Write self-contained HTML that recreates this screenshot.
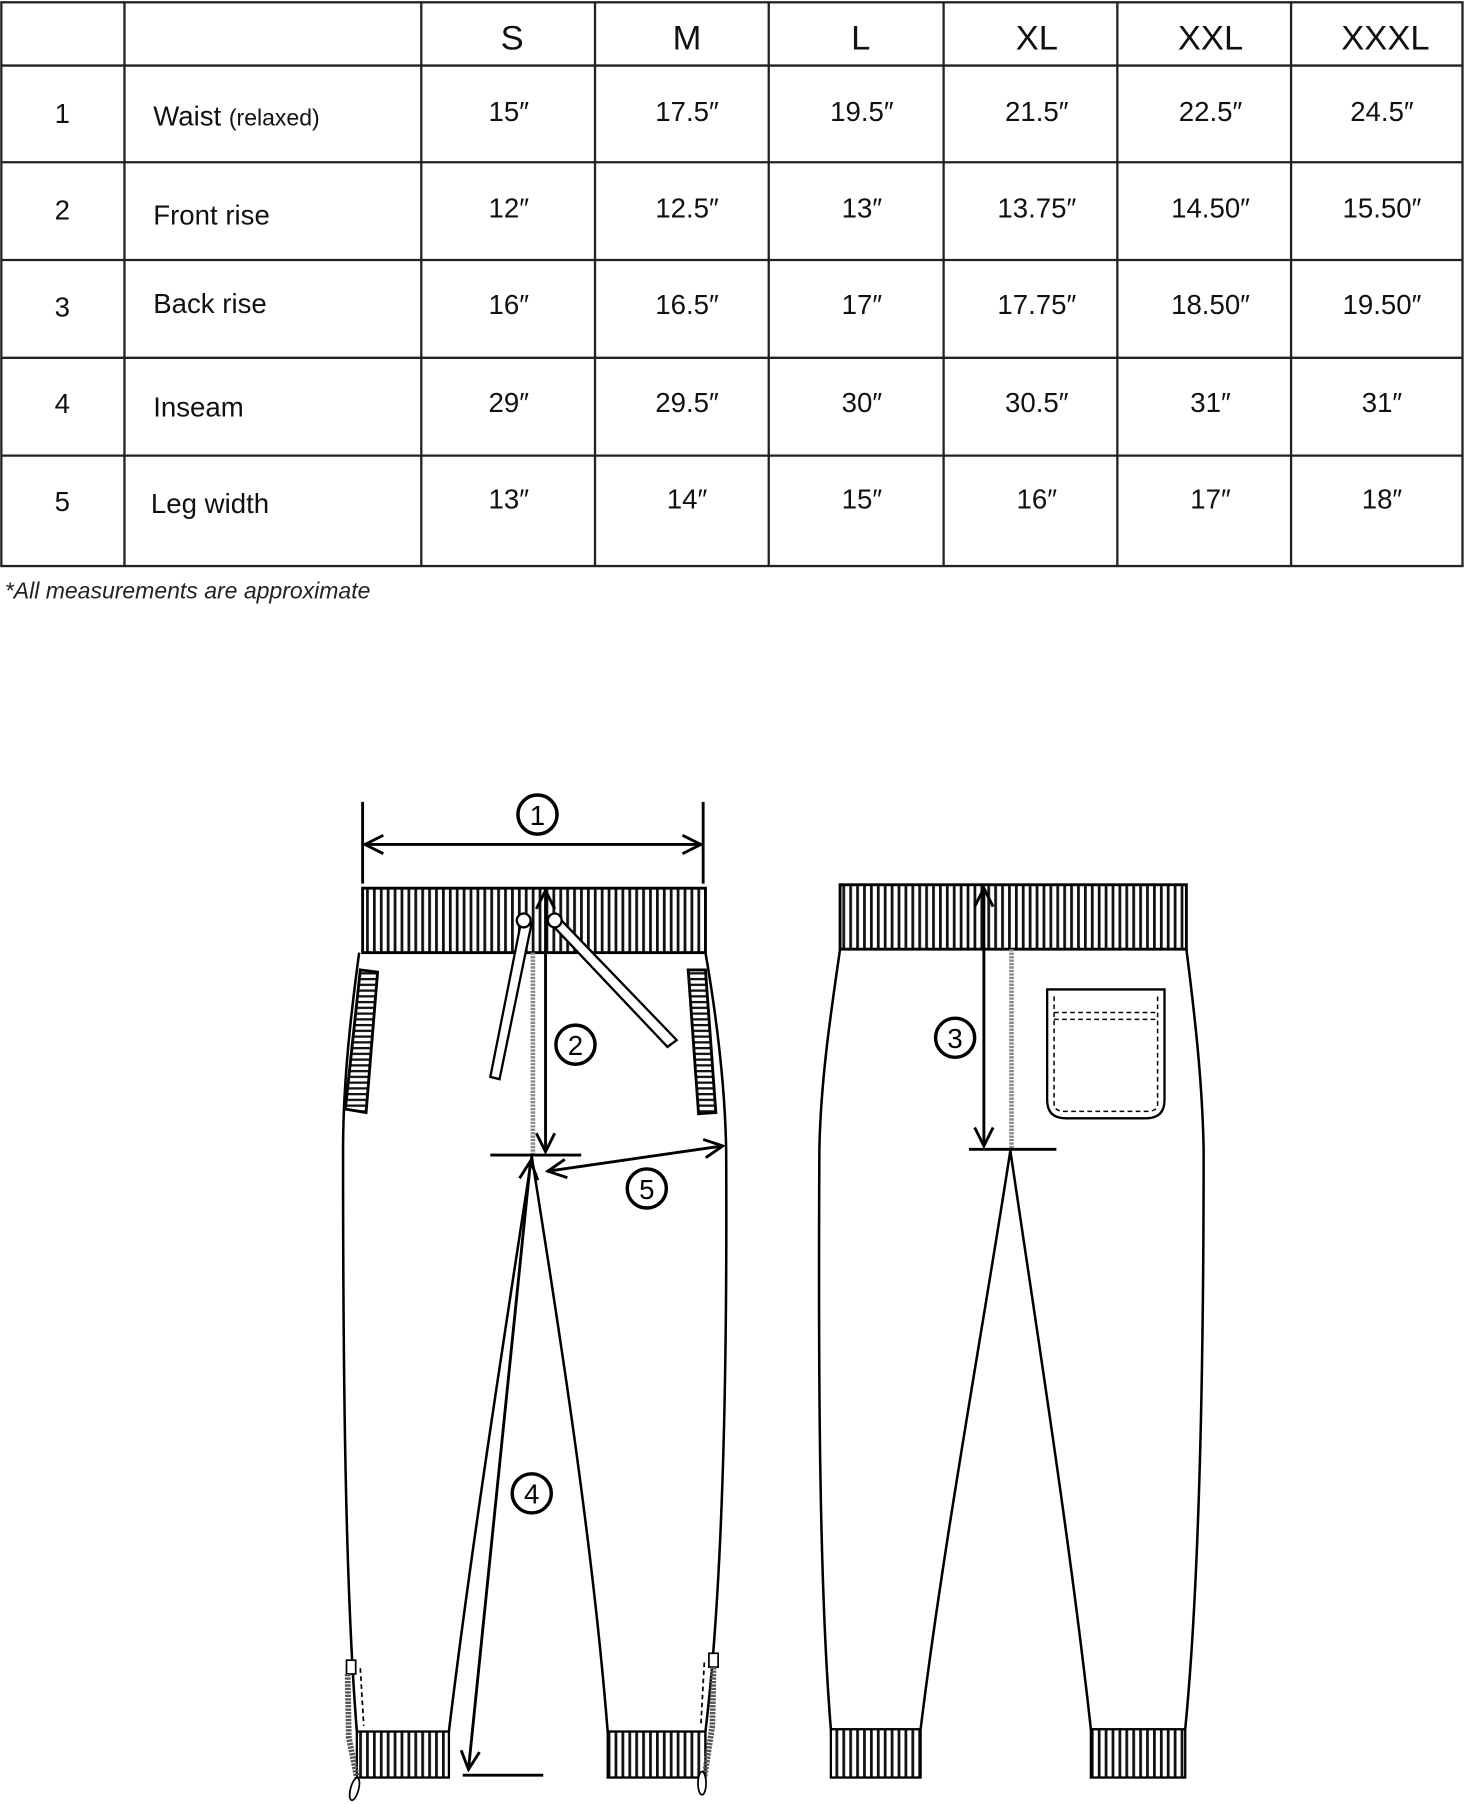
<!DOCTYPE html>
<html><head><meta charset="utf-8"><style>html,body{margin:0;padding:0;background:#fff}svg{display:block}</style></head><body>
<svg xmlns="http://www.w3.org/2000/svg" width="1465" height="1804" viewBox="0 0 1273 1568">
<defs>
<pattern id="rib" width="6" height="10" patternUnits="userSpaceOnUse"><rect width="6" height="10" fill="#fff"/><rect x="0" width="2.4" height="10" fill="#111"/></pattern>
<pattern id="hrib" width="10" height="5" patternUnits="userSpaceOnUse"><rect width="10" height="5" fill="#fff"/><rect y="0" width="10" height="2" fill="#111"/></pattern>
<marker id="ah" viewBox="0 0 20 20" refX="18" refY="10" markerWidth="20" markerHeight="20" markerUnits="userSpaceOnUse" orient="auto-start-reverse"><path d="M2 2 L18 10 L2 18" fill="none" stroke="#000" stroke-width="2.5"/></marker>
</defs>
<rect width="1273" height="1568" fill="#fff"/>
<g stroke="#222" stroke-width="2" fill="none">
<rect x="1" y="2" width="1270" height="490"/>
<line x1="1" y1="57" x2="1271" y2="57"/><line x1="1" y1="141" x2="1271" y2="141"/><line x1="1" y1="226" x2="1271" y2="226"/><line x1="1" y1="311" x2="1271" y2="311"/><line x1="1" y1="396" x2="1271" y2="396"/>
<line x1="108" y1="2" x2="108" y2="492"/><line x1="366" y1="2" x2="366" y2="492"/><line x1="517" y1="2" x2="517" y2="492"/><line x1="668" y1="2" x2="668" y2="492"/><line x1="820" y1="2" x2="820" y2="492"/><line x1="971" y1="2" x2="971" y2="492"/><line x1="1122" y1="2" x2="1122" y2="492"/>
</g>
<g font-family="Liberation Sans, sans-serif" font-size="30" text-anchor="middle" fill="#111">
<text x="445" y="43">S</text><text x="597" y="43">M</text><text x="748" y="43">L</text><text x="901" y="43">XL</text><text x="1052" y="43">XXL</text><text x="1204" y="43">XXXL</text>
</g>
<g font-family="Liberation Sans, sans-serif" font-size="24" fill="#111">
<g text-anchor="middle">
<text x="54" y="107">1</text><text x="54" y="191">2</text><text x="54" y="275">3</text><text x="54" y="359">4</text><text x="54" y="444">5</text>
<text x="442" y="105">15″</text><text x="597" y="105">17.5″</text><text x="749" y="105">19.5″</text><text x="901" y="105">21.5″</text><text x="1052" y="105">22.5″</text><text x="1201" y="105">24.5″</text>
<text x="442" y="189">12″</text><text x="597" y="189">12.5″</text><text x="749" y="189">13″</text><text x="901" y="189">13.75″</text><text x="1052" y="189">14.50″</text><text x="1201" y="189">15.50″</text>
<text x="442" y="273">16″</text><text x="597" y="273">16.5″</text><text x="749" y="273">17″</text><text x="901" y="273">17.75″</text><text x="1052" y="273">18.50″</text><text x="1201" y="273">19.50″</text>
<text x="442" y="358">29″</text><text x="597" y="358">29.5″</text><text x="749" y="358">30″</text><text x="901" y="358">30.5″</text><text x="1052" y="358">31″</text><text x="1201" y="358">31″</text>
<text x="442" y="442">13″</text><text x="597" y="442">14″</text><text x="749" y="442">15″</text><text x="901" y="442">16″</text><text x="1052" y="442">17″</text><text x="1201" y="442">18″</text>
</g>
<text x="133" y="109">Waist <tspan font-size="20">(relaxed)</tspan></text>
<text x="133" y="195">Front rise</text>
<text x="133" y="272">Back rise</text>
<text x="133" y="362">Inseam</text>
<text x="131" y="446">Leg width</text>
</g>
<text x="4" y="520" font-family="Liberation Sans, sans-serif" font-size="20" font-style="italic" fill="#222">*All measurements are approximate</text>

<g stroke="#000" stroke-width="2.2" fill="none">
<path d="M312 828 C305 880 298 940 298 1000 C298 1200 300 1380 310 1505"/>
<path d="M390 1505 C410 1340 440 1150 462 1005 C485 1150 515 1340 528 1505"/>
<path d="M613 828 C622 880 630 940 631 1000 C632 1200 628 1380 613 1505"/>
</g>
<rect x="315" y="772" width="298" height="56" fill="url(#rib)" stroke="#000" stroke-width="2.5"/>
<rect x="310" y="1505" width="80" height="40" fill="url(#rib)" stroke="#000" stroke-width="2"/>
<rect x="528" y="1505" width="85" height="40" fill="url(#rib)" stroke="#000" stroke-width="2"/>
<path d="M313 843 L328 845 L318 967 L300 964 Z" fill="url(#hrib)" stroke="#000" stroke-width="2.5"/>
<path d="M598 843 L613 843 L622 967 L607 968 Z" fill="url(#hrib)" stroke="#000" stroke-width="2.5"/>
<line x1="463" y1="828" x2="463" y2="1003" stroke="#888" stroke-width="4" stroke-dasharray="2 1"/>
<g stroke="#000" stroke-width="2" fill="#fff">
<path d="M453 800 L462 802 L434 938 L426 936 Z"/>
<path d="M476 800 L484 796 L588 904 L580 910 Z"/>
<circle cx="455" cy="800" r="6"/><circle cx="482" cy="800" r="6"/>
</g>
<g stroke="#000" stroke-width="1.5" fill="#fff">
<rect x="301" y="1443" width="8" height="12"/>
<path d="M302 1455 L303 1510 L310 1545" stroke="#555" stroke-width="5" fill="none" stroke-dasharray="2 1"/>
<ellipse cx="308" cy="1555" rx="3.5" ry="10" transform="rotate(15 308 1555)"/>
<rect x="616" y="1437" width="8" height="12"/>
<path d="M620 1449 L619 1500 L612 1545" stroke="#555" stroke-width="5" fill="none" stroke-dasharray="2 1"/>
<ellipse cx="610" cy="1550" rx="3.5" ry="10"/>
</g>
<line x1="313" y1="1450" x2="316" y2="1500" stroke="#000" stroke-width="1.5" stroke-dasharray="4 3"/>
<line x1="612" y1="1445" x2="609" y2="1500" stroke="#000" stroke-width="1.5" stroke-dasharray="4 3"/>
<g stroke="#000" stroke-width="2.5" fill="none">
<line x1="315" y1="697" x2="315" y2="768"/><line x1="611" y1="697" x2="611" y2="768"/>
<line x1="317" y1="734" x2="609" y2="734" marker-start="url(#ah)" marker-end="url(#ah)"/>
<line x1="474" y1="774" x2="474" y2="1001" marker-start="url(#ah)" marker-end="url(#ah)"/>
<line x1="426" y1="1004" x2="505" y2="1004"/>
<line x1="476" y1="1018" x2="628" y2="996" marker-start="url(#ah)" marker-end="url(#ah)"/>
<line x1="461" y1="1009" x2="407" y2="1538" marker-start="url(#ah)" marker-end="url(#ah)"/>
<line x1="402" y1="1543" x2="472" y2="1543"/>
</g>
<g stroke="#000" stroke-width="2.2" fill="none">
<path d="M730 825 C722 880 713 940 712 1000 C711 1200 712 1380 722 1503"/>
<path d="M800 1503 C820 1340 855 1150 878 1000 C900 1150 930 1340 948 1503"/>
<path d="M1031 825 C1038 880 1045 940 1046 1000 C1046 1200 1042 1380 1030 1503"/>
</g>
<rect x="730" y="769" width="301" height="56" fill="url(#rib)" stroke="#000" stroke-width="2.5"/>
<rect x="722" y="1503" width="78" height="42" fill="url(#rib)" stroke="#000" stroke-width="2"/>
<rect x="948" y="1503" width="82" height="42" fill="url(#rib)" stroke="#000" stroke-width="2"/>
<line x1="879" y1="825" x2="879" y2="998" stroke="#888" stroke-width="4" stroke-dasharray="2 1"/>
<path d="M910 860 L1012 860 L1012 956 Q1012 972 996 972 L926 972 Q910 972 910 956 Z" fill="#fff" stroke="#000" stroke-width="2"/>
<path d="M916 880 L1006 880 M916 886 L1006 886 M916 866 L916 960 Q916 966 926 966 L996 966 Q1006 966 1006 960 L1006 866" fill="none" stroke="#000" stroke-width="1.3" stroke-dasharray="4 3"/>
<g stroke="#000" stroke-width="2.5" fill="none">
<line x1="855" y1="772" x2="855" y2="996" marker-start="url(#ah)" marker-end="url(#ah)"/>
<line x1="842" y1="999" x2="918" y2="999"/>
</g>
<g stroke="#000" stroke-width="3" fill="#fff">
<circle cx="467" cy="708" r="17"/><circle cx="500" cy="908" r="17"/><circle cx="830" cy="902" r="17"/><circle cx="462" cy="1298" r="17"/><circle cx="562" cy="1033" r="17"/>
</g>
<g font-family="Liberation Sans, sans-serif" font-size="24" text-anchor="middle" fill="#000">
<text x="467" y="717">1</text><text x="500" y="917">2</text><text x="830" y="911">3</text><text x="462" y="1307">4</text><text x="562" y="1042">5</text>
</g>
</svg>
</body></html>
